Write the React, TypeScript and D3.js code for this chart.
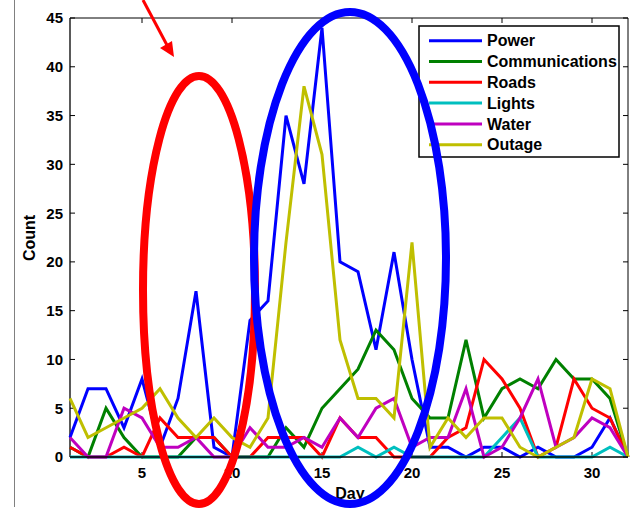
import React from "react";
import * as d3 from "d3";

const days = [1,2,3,4,5,6,7,8,9,10,11,12,13,14,15,16,17,18,19,20,21,22,23,24,25,26,27,28,29,30,31,32];
const power = [2,7,7,3,8,1,6,17,1,0,14,16,35,28,44,20,19,11,21,10,1,1,0,1,1,0,1,0,0,1,4,0];
const communications = [1,0,5,2,0,0,0,2,2,0,0,0,3,1,5,7,9,13,11,6,4,4,12,4,7,8,7,10,8,8,6,0];
const roads = [1,0,0,1,0,4,2,2,2,0,0,2,2,2,0,4,2,2,0,0,0,2,3,10,8,5,0,1,8,5,4,0];
const lights = [0,0,0,0,0,0,0,0,0,0,0,0,0,0,0,0,1,0,1,0,0,0,0,0,2,4,0,0,0,0,1,0];
const water = [2,0,0,5,4,1,1,2,0,0,3,1,1,2,1,4,2,5,6,1,2,2,7,0,1,4,8,1,2,4,3,0];
const outage = [6,2,3,4,5,7,4,2,4,2,1,4,22,38,31,12,6,6,4,22,1,4,2,4,4,1,0,1,2,8,7,0];

const seriesNames = ["Power", "Communications", "Roads", "Lights", "Water", "Outage"];
const seriesColors = ["#0000ff", "#008000", "#ff0000", "#00bfbf", "#bf00bf", "#bfbf00"];
const seriesValues = [power, communications, roads, lights, water, outage];

const xTicks = [5, 10, 15, 20, 25, 30];
const yTicks = [0, 5, 10, 15, 20, 25, 30, 35, 40, 45];

const FONT = "'Liberation Sans', Arial, Helvetica, sans-serif";

export default function App() {
  const W = 633, H = 511;
  const L = 70, R = 628, T = 18, B = 457;
  const x = d3.scaleLinear().domain([1, 32]).range([L, R]);
  const y = d3.scaleLinear().domain([0, 45]).range([B, T]);
  const line = d3.line<number>().x((_, i) => x(days[i])).y((d) => y(d));

  const legX = 419, legY = 26, legW = 200, legH = 131;
  const rowY = (i: number) => 40.7 + i * 20.8;

  return (
    <div style={{ position: "absolute", left: 0, top: 0 }}>
      <svg width={W} height={H} style={{ display: "block", background: "#fff" }} fontFamily={FONT}>
        <rect x={0} y={0} width={W} height={H} fill="#fff" />
        {/* box */}
        <line x1={L} x2={R} y1={T} y2={T} stroke="#000" strokeWidth={1} />
        <line x1={R} x2={R} y1={T} y2={B} stroke="#000" strokeWidth={1} />
        <line x1={L} x2={L} y1={T} y2={B} stroke="#000" strokeWidth={1.3} />
        {/* ticks */}
        {xTicks.map((t) => (
          <g key={"xt" + t}>
            <line x1={x(t)} x2={x(t)} y1={B} y2={B - 5} stroke="#000" />
            <line x1={x(t)} x2={x(t)} y1={T} y2={T + 5} stroke="#000" />
            <text x={x(t)} y={478} textAnchor="middle" fontSize={15} fontWeight="bold" fill="#000">{t}</text>
          </g>
        ))}
        {yTicks.map((t) => (
          <g key={"yt" + t}>
            <line x1={L} x2={L + 5} y1={y(t)} y2={y(t)} stroke="#000" />
            <line x1={R} x2={R - 5} y1={y(t)} y2={y(t)} stroke="#000" />
            <text x={63} y={y(t)} dy="0.36em" textAnchor="end" fontSize={15} fontWeight="bold" fill="#000">{t}</text>
          </g>
        ))}
        <text x={350} y={499} textAnchor="middle" fontSize={16} fontWeight="bold" fill="#000">Day</text>
        <text transform="translate(29,238) rotate(-90)" textAnchor="middle" dy="0.36em" fontSize={16} fontWeight="bold" fill="#000">Count</text>

        {/* series */}
        {seriesValues.map((vals, i) => (
          <path key={seriesNames[i]} d={line(vals) || ""} fill="none" stroke={seriesColors[i]} strokeWidth={3} strokeLinejoin="miter" strokeMiterlimit={4} />
        ))}
        <line x1={L} x2={R} y1={B} y2={B} stroke="#000" strokeWidth={1.5} />

        {/* legend */}
        <rect x={legX} y={legY} width={legW} height={legH} fill="#fff" stroke="#000" strokeWidth={1.5} />
        {seriesNames.map((n, i) => (
          <g key={"lg" + n}>
            <line x1={429} x2={482} y1={rowY(i)} y2={rowY(i)} stroke={seriesColors[i]} strokeWidth={3} />
            <text x={487} y={rowY(i)} dy="0.36em" fontSize={16} fontWeight="bold" fill="#000">{n}</text>
          </g>
        ))}

        {/* annotations */}
        <ellipse cx={199} cy={290} rx={56} ry={214} fill="none" stroke="#ff0000" strokeWidth={8} />
        <ellipse cx={350} cy={258} rx={96} ry={246} fill="none" stroke="#0000ff" strokeWidth={8} />
        <line x1={143} y1={0} x2={168} y2={47} stroke="#ff0000" strokeWidth={3} />
        <polygon points="174,57 160,48 172,41" fill="#ff0000" />

        <line x1={14.5} x2={14.5} y1={0} y2={507} stroke="#808080" strokeWidth={1} />
      </svg>
    </div>
  );
}
